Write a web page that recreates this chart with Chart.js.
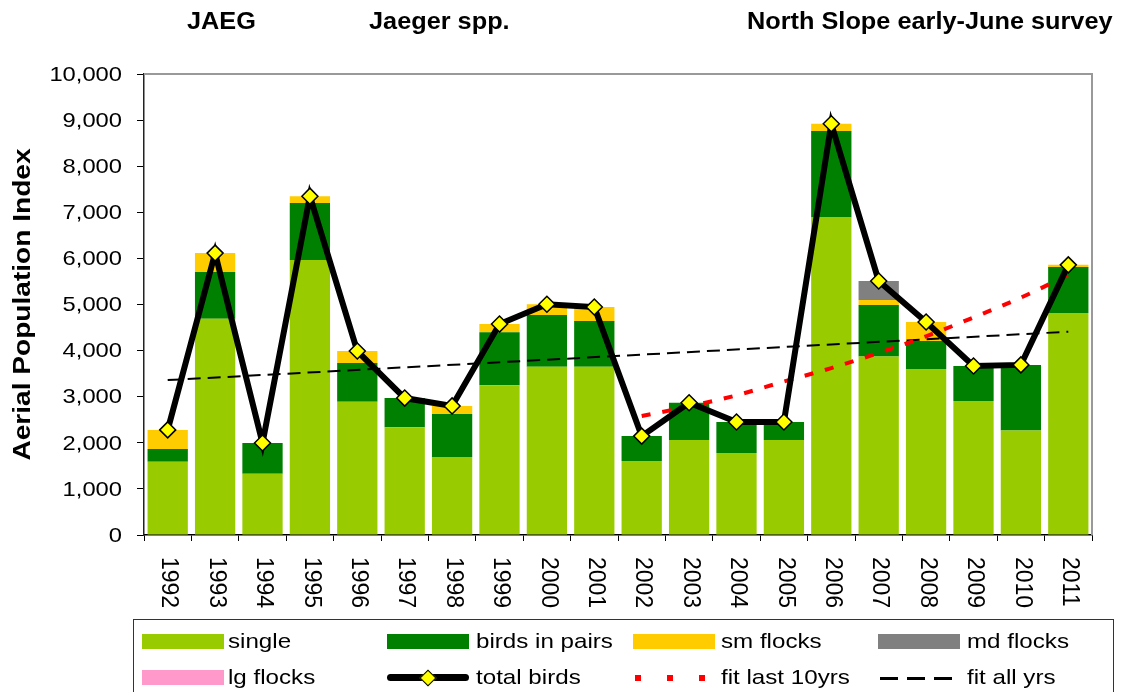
<!DOCTYPE html>
<html>
<head>
<meta charset="utf-8">
<script src="https://cdn.jsdelivr.net/npm/chart.js@4"></script>
<style>
  body { margin: 0; background: #fff; overflow: hidden; }
  #wrap { position: relative; width: 1123px; height: 692px; }
  .title { position: absolute; top: 10px; font: bold 23px "Liberation Sans", Arial, sans-serif; line-height: 23px; transform: scaleX(1.1); transform-origin: left; white-space: nowrap; }
  #legend { position: absolute; left: 133px; top: 619px; width: 981px; height: 90px; border: 1px solid #333; box-sizing: border-box; }
  .lg-text { position: absolute; font: 21px "Liberation Sans", Arial, sans-serif; line-height: 22px; transform: scaleX(1.15); transform-origin: left; white-space: nowrap; }
  .sw { position: absolute; }
</style>
</head>
<body>
<div id="wrap">
  <canvas id="chart" width="1123" height="692"></canvas>
  <div class="title" style="left:187px">JAEG</div>
  <div class="title" style="left:369px">Jaeger spp.</div>
  <div class="title" style="left:747px">North Slope early-June survey</div>
  <div id="legend"></div>
</div>
<script>
const years = ["1992","1993","1994","1995","1996","1997","1998","1999","2000","2001","2002","2003","2004","2005","2006","2007","2008","2009","2010","2011"]
const single = [1590, 4690, 1330, 5965, 2890, 2340, 1690, 3250, 3650, 3650, 1605, 2060, 1780, 2060, 6885, 3870, 3600, 2905, 2265, 4815]
const pairs = [275, 1015, 665, 1235, 840, 630, 935, 1150, 1120, 990, 540, 810, 670, 390, 1880, 1120, 610, 760, 1425, 1000]
const smFlocks = [415, 410, 0, 150, 260, 0, 175, 175, 235, 305, 0, 0, 0, 0, 155, 110, 410, 0, 0, 45]
const mdFlocks = [0, 0, 0, 0, 0, 0, 0, 0, 0, 0, 0, 0, 0, 0, 0, 410, 0, 0, 0, 0]
const lgFlocks = [0, 0, 0, 0, 0, 0, 0, 0, 0, 0, 0, 0, 0, 0, 0, 0, 0, 0, 0, 0]
const totalBirds = [2280, 6115, 1995, 7350, 3990, 2970, 2800, 4575, 5005, 4945, 2145, 2870, 2450, 2450, 8920, 5510, 4620, 3665, 3690, 5860]
// trend lines (all-years one is straight, so only its ends)
const fitLast10 = [null, null, null, null, null, null, null, null, null, null, 2580, 2790, 3030, 3330, 3620, 3950, 4310, 4720, 5150, 5640]
const fitAll = [3360, null, null, null, null, null, null, null, null, null, null, null, null, null, null, null, null, null, null, 4410]
const yTicks = [0, 1000, 2000, 3000, 4000, 5000, 6000, 7000, 8000, 9000, 10000]
const yTitle = "Aerial Population Index"

const FONT = '"Liberation Sans", Arial, sans-serif'

function barSet(label, data, color) {
  return { type: "bar", label, data, backgroundColor: color, stack: "bars", order: 5, barPercentage: 0.85, categoryPercentage: 1 }
}

const datasets = [
  barSet("single", single, "#99cc00"),
  barSet("birds in pairs", pairs, "#008000"),
  barSet("sm flocks", smFlocks, "#ffcc00"),
  barSet("md flocks", mdFlocks, "#808080"),
  barSet("lg flocks", lgFlocks, "#ff99cc"),
  {
    type: "line", label: "total birds", data: totalBirds, stack: "tot", order: 0,
    borderColor: "#000", borderWidth: 6, tension: 0,
    pointStyle: "rectRot", pointRadius: 8, pointBackgroundColor: "#ffff00", pointBorderColor: "#000", pointBorderWidth: 1.5,
  },
  {
    type: "line", label: "fit last 10yrs", data: fitLast10, stack: "f10", order: 1,
    borderColor: "#ff0000", borderWidth: 4, borderDash: [9, 12], pointRadius: 0, cubicInterpolationMode: "monotone",
  },
  {
    type: "line", label: "fit all yrs", data: fitAll, stack: "fall", order: 2, spanGaps: true,
    borderColor: "#000", borderWidth: 2, borderDash: [13, 7], pointRadius: 0,
  },
]

// tick labels and axis title drawn by hand: years read top-to-bottom, text slightly wide like the original
const tickText = {
  id: "tickText",
  afterDraw(chart) {
    const { ctx, scales: { x, y }, chartArea } = chart
    ctx.save()
    // gray frame on top and right
    ctx.strokeStyle = "#999"
    ctx.lineWidth = 2
    ctx.beginPath()
    ctx.moveTo(chartArea.left, chartArea.top)
    ctx.lineTo(chartArea.right, chartArea.top)
    ctx.lineTo(chartArea.right, chartArea.bottom)
    ctx.stroke()

    ctx.fillStyle = "#000"
    ctx.font = "23px " + FONT
    years.forEach((yr, i) => {
      ctx.save()
      ctx.translate(x.getPixelForValue(i) + 1, 557)
      ctx.rotate(Math.PI / 2)
      ctx.textAlign = "left"
      ctx.textBaseline = "middle"
      ctx.fillText(yr, 0, 0)
      ctx.restore()
    })
    ctx.font = "21px " + FONT
    yTicks.forEach((v) => {
      ctx.save()
      ctx.translate(122, y.getPixelForValue(v) + 1)
      ctx.scale(1.13, 1)
      ctx.textAlign = "right"
      ctx.textBaseline = "middle"
      ctx.fillText(v.toLocaleString("en-US"), 0, 0)
      ctx.restore()
    })
    ctx.save()
    ctx.font = "bold 24px " + FONT
    ctx.translate(23, (chartArea.top + chartArea.bottom) / 2)
    ctx.rotate(-Math.PI / 2)
    ctx.scale(1.17, 1)
    ctx.textAlign = "center"
    ctx.textBaseline = "middle"
    ctx.fillText(yTitle, 0, 0)
    ctx.restore()
    ctx.restore()
  },
}

new Chart(document.getElementById("chart"), {
  data: { labels: years, datasets },
  plugins: [tickText],
  options: {
    responsive: false,
    animation: false,
    layout: { padding: { top: 74, right: 31, left: 0, bottom: 0 } },
    plugins: { legend: { display: false }, tooltip: { enabled: false } },
    scales: {
      x: {
        stacked: true,
        offset: true,
        afterFit: (s) => { s.height = 157 },
        ticks: { display: false },
        grid: { offset: true, drawOnChartArea: false, drawTicks: true, tickLength: 6, color: "#000" },
        border: { color: "#000", width: 1.5 },
      },
      y: {
        stacked: true,
        min: 0,
        max: 10000,
        afterFit: (s) => { s.width = 144 },
        afterBuildTicks: (s) => { s.ticks = yTicks.map((v) => ({ value: v })) },
        ticks: { display: false },
        grid: { drawOnChartArea: false, drawTicks: true, tickLength: 7, color: "#000" },
        border: { color: "#222", width: 1.5 },
      },
    },
  },
})

// legend box, same layout as the original (4 columns x 2 rows)
const legend = document.getElementById("legend")
const swX = [141, 386, 632, 877]
const txX = [227, 475, 720, 966]
const rowY = [641, 677]
function put(html, left, top, cls, style) {
  const d = document.createElement("div")
  d.className = cls
  d.style.cssText = `left:${left - 133}px;top:${top - 619}px;` + (style || "")
  d.innerHTML = html
  legend.appendChild(d)
}
datasets.forEach((ds, i) => {
  const col = i % 4
  const cy = rowY[Math.floor(i / 4)]
  put(ds.label, txX[col], cy - 12, "lg-text")
  const sx = swX[col]
  if (ds.type === "bar") {
    put("", sx, cy - 8, "sw", `width:82px;height:15px;background:${ds.backgroundColor}`)
  } else if (ds.label === "total birds") {
    put("", sx, cy - 4, "sw", "width:82px;height:7px;border-radius:4px;background:#000")
    put("", sx + 35, cy - 6, "sw", "width:10px;height:10px;background:#ffff00;border:1.5px solid #000;transform:rotate(45deg)")
  } else if (ds.label === "fit last 10yrs") {
    [0, 32, 64].forEach((o) => put("", sx + 2 + o, cy - 3, "sw", "width:6px;height:6px;background:#ff0000"))
  } else {
    [0, 27, 54].forEach((o) => put("", sx + 2 + o, cy - 1, "sw", "width:18px;height:3px;background:#000"))
  }
})
</script>
</body>
</html>
